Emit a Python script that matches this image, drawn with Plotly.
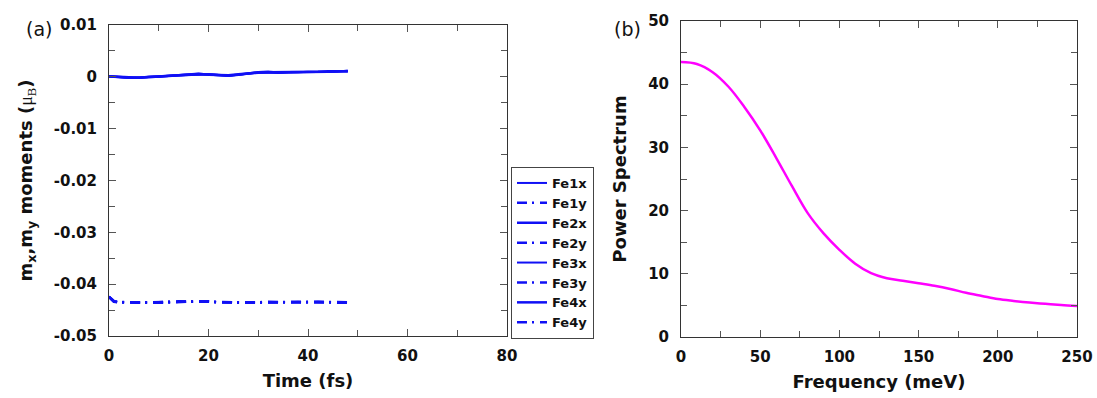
import plotly.graph_objects as go

# ---------------- data: panel (a) ----------------
time_fs = [0, 1, 2, 4, 6, 8, 10, 12, 14, 16, 18, 20, 22, 24, 26, 28, 30, 32, 34, 36, 38, 40, 42, 44, 46, 48]

fe1_x = [0.0001, 0.0000, 0.0000, -0.0002, -0.0002, 0.0000, 0.0001, 0.0002, 0.0003, 0.0004, 0.0006, 0.0005, 0.0003,
         0.0002, 0.0004, 0.0007, 0.0009, 0.0009, 0.0008, 0.0009, 0.0009, 0.0009, 0.0010, 0.0010, 0.0011, 0.0011]
fe2_x = [0.0001, 0.0001, 0.0000, -0.0001, -0.0002, -0.0001, 0.0001, 0.0002, 0.0003, 0.0005, 0.0006, 0.0004, 0.0003,
         0.0003, 0.0005, 0.0007, 0.0008, 0.0009, 0.0009, 0.0009, 0.0010, 0.0009, 0.0010, 0.0011, 0.0011, 0.0011]
fe3_x = [0.0000, 0.0000, -0.0001, -0.0002, -0.0001, 0.0000, 0.0001, 0.0001, 0.0002, 0.0004, 0.0005, 0.0005, 0.0004,
         0.0002, 0.0004, 0.0006, 0.0008, 0.0008, 0.0008, 0.0008, 0.0009, 0.0010, 0.0010, 0.0010, 0.0010, 0.0012]
fe4_x = [0.0001, 0.0000, 0.0000, -0.0002, -0.0002, 0.0000, 0.0000, 0.0002, 0.0003, 0.0004, 0.0005, 0.0005, 0.0003,
         0.0002, 0.0004, 0.0007, 0.0009, 0.0010, 0.0008, 0.0009, 0.0009, 0.0010, 0.0010, 0.0010, 0.0011, 0.0011]

fe1_y = [-0.0424, -0.0433, -0.0435, -0.0435, -0.0436, -0.0436, -0.0435, -0.0434, -0.0434, -0.0434, -0.0433, -0.0434, -0.0435,
         -0.0435, -0.0436, -0.0436, -0.0435, -0.0435, -0.0435, -0.0435, -0.0435, -0.0434, -0.0434, -0.0434, -0.0435, -0.0436]
fe2_y = [-0.0425, -0.0434, -0.0435, -0.0436, -0.0436, -0.0435, -0.0435, -0.0434, -0.0433, -0.0434, -0.0434, -0.0434, -0.0435,
         -0.0436, -0.0436, -0.0435, -0.0435, -0.0435, -0.0434, -0.0435, -0.0435, -0.0434, -0.0435, -0.0434, -0.0435, -0.0436]
fe3_y = [-0.0424, -0.0433, -0.0434, -0.0435, -0.0435, -0.0436, -0.0436, -0.0435, -0.0434, -0.0433, -0.0433, -0.0434, -0.0434,
         -0.0435, -0.0435, -0.0436, -0.0436, -0.0435, -0.0435, -0.0434, -0.0435, -0.0435, -0.0434, -0.0434, -0.0435, -0.0435]
fe4_y = [-0.0425, -0.0434, -0.0435, -0.0435, -0.0436, -0.0436, -0.0435, -0.0435, -0.0434, -0.0434, -0.0434, -0.0433, -0.0435,
         -0.0435, -0.0436, -0.0436, -0.0435, -0.0434, -0.0435, -0.0435, -0.0434, -0.0434, -0.0434, -0.0435, -0.0436, -0.0436]

series_names = ["Fe1x", "Fe1y", "Fe2x", "Fe2y", "Fe3x", "Fe3y", "Fe4x", "Fe4y"]

# ---------------- data: panel (b) ----------------
freq_mev = [0, 10, 20, 30, 40, 50, 60, 70, 80, 90, 100, 110, 120, 130, 140, 150, 160, 170, 180, 190, 200, 210, 220, 230, 240, 250]
power = [43.5, 43.2, 41.9, 39.6, 36.4, 32.7, 28.4, 23.9, 19.6, 16.4, 13.8, 11.6, 10.1, 9.3, 8.9, 8.5, 8.1, 7.6, 7.0, 6.5,
         6.0, 5.7, 5.45, 5.25, 5.05, 4.9]

# tick labels
a_xticks = [0, 20, 40, 60, 80]
a_yticks = [0.01, 0, -0.01, -0.02, -0.03, -0.04, -0.05]
a_yticktext = ["0.01", "0", "-0.01", "-0.02", "-0.03", "-0.04", "-0.05"]
b_xticks = [0, 50, 100, 150, 200, 250]
b_yticks = [0, 10, 20, 30, 40, 50]

# ---------------- figure ----------------
FONT = "DejaVu Sans"
BLUE = "#1010f5"
DASHDOT = "10px,5px,2px,6px"

fig = go.Figure()

x_series = [fe1_x, fe2_x, fe3_x, fe4_x]
y_series = [fe1_y, fe2_y, fe3_y, fe4_y]
for i in range(4):
    fig.add_trace(go.Scatter(x=time_fs, y=x_series[i], mode="lines", name=series_names[2 * i],
                             line=dict(color=BLUE, width=2.5 if i % 2 else 2),
                             xaxis="x", yaxis="y"))
    fig.add_trace(go.Scatter(x=time_fs, y=y_series[i], mode="lines", name=series_names[2 * i + 1],
                             line=dict(color=BLUE, width=2.5, dash=DASHDOT),
                             xaxis="x", yaxis="y"))

fig.add_trace(go.Scatter(x=freq_mev, y=power, mode="lines", showlegend=False,
                         line=dict(color="#ff00ff", width=2.5, shape="spline"),
                         xaxis="x2", yaxis="y2"))

axis_common = dict(showline=True, linecolor="#333", linewidth=1, mirror="allticks",
                   ticks="inside", ticklen=7, tickcolor="#555", tickwidth=1,
                   showgrid=False, zeroline=False, automargin=False,
                   tickfont=dict(family=FONT, size=15, color="#111", weight="bold"))
title_font = dict(family=FONT, size=18, color="#111", weight="bold")

fig.update_layout(
    width=1097, height=398,
    margin=dict(l=0, r=0, t=0, b=0, autoexpand=False),
    paper_bgcolor="white", plot_bgcolor="white",
    xaxis=dict(domain=[109 / 1097, 507 / 1097], range=[0, 80], tickvals=a_xticks,
               minor=dict(dtick=10, ticks="inside", ticklen=6, tickcolor="#555"),
               title=dict(text="Time (fs)", font=title_font, standoff=10),
               ticklabelstandoff=6, anchor="y", **axis_common),
    yaxis=dict(domain=[1 - 336 / 398, 1 - 25 / 398], range=[-0.05, 0.01],
               tickvals=a_yticks, ticktext=a_yticktext,
               minor=dict(dtick=0.005, ticks="inside", ticklen=6, tickcolor="#555"),
               title=dict(text="m<sub>x</sub>,m<sub>y</sub> moments (<span style='font-family:Liberation Serif;font-weight:normal'>μ<sub>B</sub></span>)",
                          font=title_font, standoff=16),
               ticklabelstandoff=8, anchor="x", **axis_common),
    xaxis2=dict(domain=[681 / 1097, 1077 / 1097], range=[0, 250], tickvals=b_xticks,
                minor=dict(dtick=25, ticks="inside", ticklen=6, tickcolor="#555"),
                title=dict(text="Frequency (meV)", font=title_font, standoff=10),
                ticklabelstandoff=6, anchor="y2", **axis_common),
    yaxis2=dict(domain=[1 - 337 / 398, 1 - 21 / 398], range=[0, 50], tickvals=b_yticks,
                minor=dict(dtick=5, ticks="inside", ticklen=6, tickcolor="#555"),
                title=dict(text="Power Spectrum", font=title_font, standoff=16),
                ticklabelstandoff=8, anchor="x2", **axis_common),
    legend=dict(x=511 / 1097, y=1 - 167 / 398, xanchor="left", yanchor="top",
                bgcolor="white", bordercolor="#444", borderwidth=1,
                font=dict(family=FONT, size=13, color="#111", weight="bold"),
                itemwidth=30, tracegroupgap=0),
    showlegend=True,
    annotations=[
        dict(text="(a)", x=24 / 1097, y=1 - 16 / 398, xref="paper", yref="paper",
             showarrow=False, font=dict(family=FONT, size=19, color="#111")),
        dict(text="(b)", x=627 / 1097, y=1 - 16 / 398, xref="paper", yref="paper",
             showarrow=False, font=dict(family=FONT, size=19, color="#111")),
    ],
)

fig.write_html("out.html")
